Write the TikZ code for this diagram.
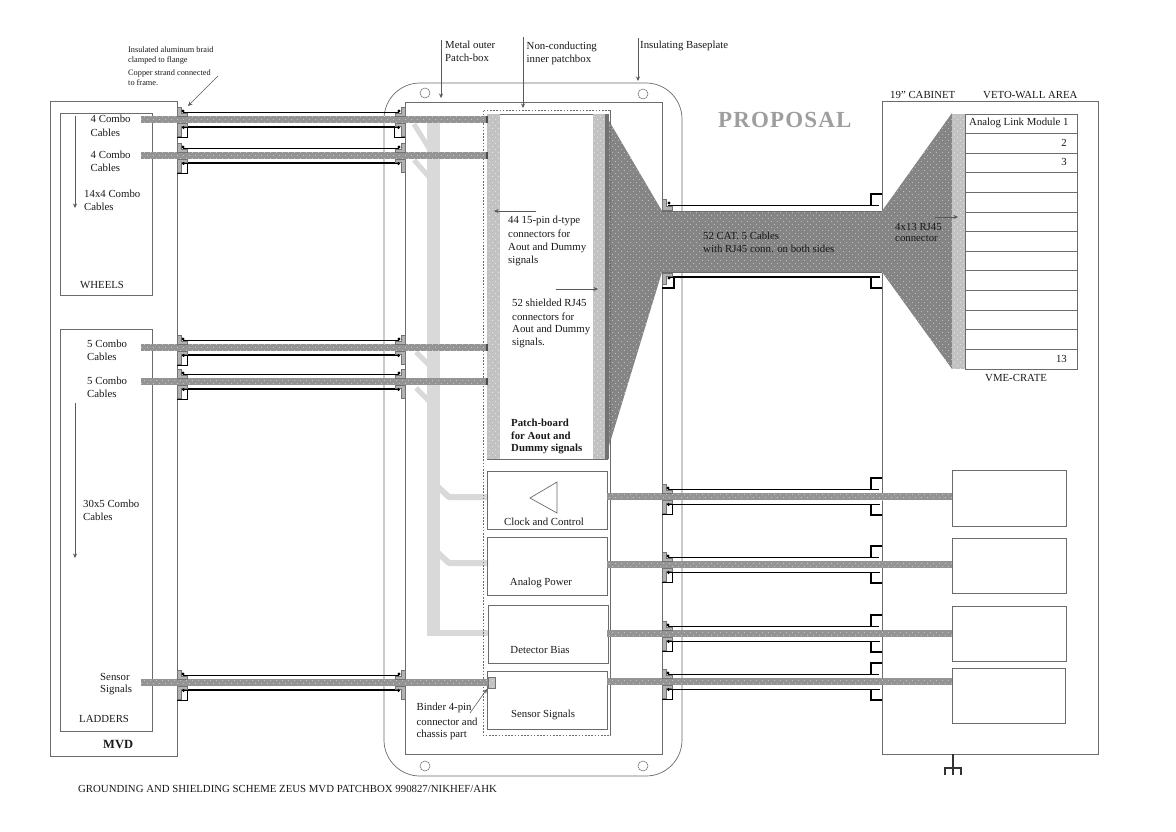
\documentclass[tikz,border=0pt]{standalone}
\usepackage{fontspec}
\setmainfont{Liberation Serif}
\usetikzlibrary{arrows.meta,patterns}
\pgfdeclarepatternformonly{sparsedots}{\pgfqpoint{-1pt}{-1pt}}{\pgfqpoint{5pt}{5pt}}{\pgfqpoint{6pt}{6pt}}{%
  \pgfpathcircle{\pgfqpoint{0.6pt}{0.6pt}}{0.38pt}\pgfpathcircle{\pgfqpoint{3.6pt}{3.6pt}}{0.38pt}\pgfusepath{fill}}
\definecolor{framecol}{gray}{0.42}
\definecolor{cablecol}{gray}{0.58}
\definecolor{fancol}{gray}{0.52}
\definecolor{barcol}{gray}{0.76}
\definecolor{flangecol}{gray}{0.70}
\definecolor{buscol}{gray}{0.85}
\definecolor{txtcol}{gray}{0.10}
\tikzset{
  frame/.style={draw=framecol,line width=0.7pt},
  thinframe/.style={draw=framecol,line width=0.6pt,dash pattern=on 1.6pt off 1.6pt},
  cableshape/.style={preaction={fill=cablecol},pattern=sparsedots,pattern color=white!80!cablecol},
  fanshape/.style={preaction={fill=fancol},pattern=sparsedots,pattern color=white!80!fancol},
  barshape/.style={preaction={fill=barcol},pattern=sparsedots,pattern color=white},
  flange/.style={fill=flangecol,draw=black!55,line width=0.5pt},
  wire/.style={draw=black,line width=1.1pt},
  pointer/.style={draw=black!65,line width=0.55pt,-{Stealth[length=4.5pt,width=4pt]}},
  bus/.style={draw=buscol,line join=round},
  lab/.style={anchor=west,inner sep=0pt,text=txtcol,font=\fontsize{10.8}{12}\selectfont},
  small/.style={lab,font=\fontsize{8.3}{9}\selectfont},
}
% gray flange pair and black dots; #1 x, #2 cable top, #3 direction
\newcommand{\flangepair}[3]{%
  \begin{scope}[shift={(#1,#2)},xscale=#3]
    \path[flange] (0,-8.5)--(4,-8.5)--(4,-2.5)--(10,-2.5)--(10,0)--(0,0)--cycle;
    \path[flange] (0,7)--(10,7)--(10,10.5)--(4,10.5)--(4,20)--(0,20)--cycle;
    \fill[black] (6,-5) circle (1.7);
    \fill[black] (6.5,11.5) circle (1.7);
  \end{scope}}
% black loop from the lower wire back to the frame
\newcommand{\groundloop}[3]{%
  \begin{scope}[shift={(#1,#2)},xscale=#3]
    \draw[wire] (10.5,11.5)--(10.5,21.5)--(0,21.5);
  \end{scope}}
% cable with its two wires on the left run
\newcommand{\leftrun}[2]{%
  \path[cableshape] (141,#1) rectangle (#2,#1+7);
  \draw[wire] (183,#1-3.5)--(399,#1-3.5);
  \draw[wire] (183,#1+11)--(399,#1+11);
  \flangepair{177}{#1}{1}\flangepair{405}{#1}{-1}\groundloop{177}{#1}{1}}
% cable with wires and stepped ends on the right run
\newcommand{\rightrun}[2]{%
  \path[cableshape] (607,#1) rectangle (#2,#1+7);
  \draw[wire] (668,#1-3.5)--(879,#1-3.5);
  \draw[wire] (668,#1+11.5)--(880,#1+11.5);
  \draw[wire] (871,#1-3.5)--(871,#1-15)--(882,#1-15);
  \draw[wire] (871,#1+11.5)--(871,#1+22)--(882,#1+22);
  \flangepair{662}{#1}{1}\groundloop{662}{#1}{1}}
\newcommand{\labl}[4]{\node[lab] (#1) at (#2,#3) {#4};}
\begin{document}
\begin{tikzpicture}[x=1pt,y=-1pt]
\useasboundingbox (0,0) rectangle (1176,831);
\fill[white] (0,0) rectangle (1176,831);

% light shield bus
\draw[bus,line width=13pt] (433.5,120)--(433.5,636);
\draw[bus,line width=6pt] (430,633)--(488,633);
\draw[bus,line width=5pt] (414,124)--(430,150);
\draw[bus,line width=5pt] (414,160)--(430,178);
\draw[bus,line width=5pt] (416,352)--(430,366);
\draw[bus,line width=5pt] (416,388)--(430,402);
\draw[bus,line width=6pt] (438,487)--(449,497)--(488,497);
\draw[bus,line width=6pt] (438,553)--(449,563)--(488,563);

% frames
\draw[frame] (50,101) rectangle (177,756);
\draw[frame] (60,113) rectangle (152,295);
\draw[frame] (60,329) rectangle (152,731);
\draw[frame,rounded corners=36pt] (384,83) rectangle (682,776);
\draw[frame] (405,102) rectangle (662,754);
\draw[thinframe] (483,110.5) rectangle (610,735);
\draw[frame] (882,101.5) rectangle (1098,754);
\foreach \cx/\cy [count=\i] in {425/93,643/94,425/766,643/766}
  \node[draw=framecol,line width=0.5pt,circle,minimum size=10pt,inner sep=0pt] (hole\i) at (\cx,\cy) {};

% patch board
\draw[frame] (487,114) rectangle (607,459);
\path[fanshape] (605,114)--(662,211)--(882,211)--(952,113)--(952,369)--(882,272)--(662,272)--(605,459)--cycle;
\draw[framecol,line width=0.6pt] (662,211)--(882,211) (662,272)--(882,272);
\fill[black!55] (605,114) rectangle (609,459);
\path[barshape] (487,114) rectangle (500,459);
\path[barshape] (593,114) rectangle (605,459);
\draw[thinframe] (610,110.5)--(610,735);

% modules
\path[barshape] (952,114) rectangle (965.5,369);
\draw[frame] (965.5,114) rectangle (1077,369);
\foreach \k in {1,...,12}
  \draw[frame] (965.5,114+19.6*\k)--(1077,114+19.6*\k);

% lower boxes
\draw[frame] (487,471) rectangle (607,529);
\draw[frame] (487,537) rectangle (607,595);
\draw[frame] (488,605) rectangle (608,663);
\draw[frame] (487,671) rectangle (607,729);
\draw[frame] (530,498)--(557,482)--(557,513)--cycle;
\draw[frame] (952,470) rectangle (1066,526);
\draw[frame] (952,538) rectangle (1066,593);
\draw[frame] (952,606) rectangle (1066,661);
\draw[frame] (952,668) rectangle (1065,723);

% left runs
\leftrun{116}{487}
\leftrun{152}{487}
\leftrun{344}{487}
\leftrun{378}{487}
\leftrun{679}{488}
\groundloop{405}{116}{-1}
\fill[black!70] (486,116) rectangle (487.5,123);
\fill[black!70] (486,152) rectangle (487.5,159);
\fill[black!70] (486,344) rectangle (487.5,351);
\fill[black!70] (486,378) rectangle (487.5,385);
\path[barshape,draw=black!55,line width=0.4pt] (488,677) rectangle (495,688);

% right runs
\rightrun{493}{952}
\rightrun{561}{952}
\rightrun{630}{952}
\rightrun{678}{952}
% fan-cable grounding
\draw[wire] (668,205.5)--(879,205.5);
\draw[wire] (668,277)--(880,277);
\draw[wire] (871,205.5)--(871,194)--(882,194);
\draw[wire] (871,277)--(871,288)--(882,288);
\path[flange] (662,199)--(666,199)--(666,206)--(672,206)--(672,210)--(662,210)--cycle;
\path[flange] (662,273)--(672,273)--(672,276.5)--(666,276.5)--(666,284)--(662,284)--cycle;
\fill[black] (669,203) circle (1.7);
\fill[black] (669,278) circle (1.7);
\draw[wire] (674,278)--(674,288)--(662,288);

% ground symbol
\coordinate (gndtop) at (953,754);
\coordinate (gndbar) at (953,768);
\draw[wire,draw=black!80] (gndtop)--(gndbar) (945,775)--(945,768)--(961,768)--(961,775) (gndbar)--(953,775);

% pointers
\coordinate (a1) at (218,76); \coordinate (a1e) at (188,106);
\draw[pointer] (a1)--(a1e);
\draw[pointer] (441,40)--(441,98);
\draw[pointer] (523,37)--(523,108);
\draw[pointer] (638,38)--(638,81);
\draw[pointer] (536,211)--(494,211);
\draw[pointer] (556,289)--(598,289);
\draw[pointer] (75,116)--(75,208);
\draw[pointer] (75,403)--(75,558);
\draw[pointer] (470,713)--(487,689);
\draw[pointer] (935,217)--(958,217);

% labels
\node[small] (n1) at (128,50) {Insulated aluminum braid};
\node[small] (n2) at (128,60) {clamped to flange};
\node[small] (n3) at (128,73) {Copper strand connected};
\node[small] (n4) at (128,83) {to frame.};
\labl{m1}{445}{45}{Metal outer}
\labl{m2}{445}{58}{Patch-box}
\labl{m3}{526.5}{47}{Non-conducting}
\labl{m4}{526.5}{60}{inner patchbox}
\labl{m5}{640}{46}{Insulating Baseplate}
\labl{c1}{90.5}{119}{4 Combo}
\labl{c2}{90.5}{132.5}{Cables}
\labl{c3}{90.5}{155}{4 Combo}
\labl{c4}{90.5}{168}{Cables}
\labl{c5}{84}{194}{14x4 Combo}
\labl{c6}{84}{207}{Cables}
\labl{c7}{80}{285}{WHEELS}
\labl{c8}{87}{344}{5 Combo}
\labl{c9}{87}{357}{Cables}
\labl{c10}{87}{381}{5 Combo}
\labl{c11}{87}{394}{Cables}
\labl{c12}{83}{504}{30x5 Combo}
\labl{c13}{83}{517}{Cables}
\labl{c14}{100}{677}{Sensor}
\labl{c15}{100}{690}{Signals}
\labl{c16}{79}{719}{LADDERS}
\node[lab,font=\fontsize{12.5}{14}\selectfont\bfseries] (mvd) at (103,744) {MVD};
\labl{d1}{508}{221}{44 15-pin d-type}
\labl{d2}{508}{234}{connectors for}
\labl{d3}{508}{247.5}{Aout and Dummy}
\labl{d4}{508}{261}{signals}
\labl{d5}{512}{303}{52 shielded RJ45}
\labl{d6}{512}{317}{connectors for}
\labl{d7}{512}{330}{Aout and Dummy}
\labl{d8}{512}{343}{signals.}
\node[lab,font=\fontsize{10.8}{12}\selectfont\bfseries] (p1) at (511,423) {Patch-board};
\node[lab,font=\fontsize{10.8}{12}\selectfont\bfseries] (p2) at (511,436) {for Aout and};
\node[lab,font=\fontsize{10.8}{12}\selectfont\bfseries] (p3) at (511,449) {Dummy signals};
\node[lab,anchor=center] (b1) at (544,522) {Clock and Control};
\node[lab,anchor=center] (b2) at (541,583) {Analog Power};
\node[lab,anchor=center] (b3) at (540,650) {Detector Bias};
\node[lab,anchor=center] (b4) at (543,715) {Sensor Signals};
\labl{e1}{416.5}{708}{Binder 4-pin}
\labl{e2}{416.5}{722}{connector and}
\labl{e3}{416.5}{735}{chassis part}
\labl{f1}{703}{236}{52 CAT. 5 Cables}
\labl{f2}{703}{249}{with RJ45 conn. on both sides}
\labl{f3}{895}{226.5}{4x13 RJ45}
\labl{f4}{895}{239}{connector}
\labl{g1}{969}{123}{Analog Link Module 1}
\node[lab,anchor=east] (g2) at (1067,143) {2};
\node[lab,anchor=east] (g3) at (1067,162) {3};
\node[lab,anchor=east] (g4) at (1067,359) {13};
\labl{h1}{890}{95}{19" CABINET}
\labl{h2}{983}{95}{VETO-WALL AREA}
\labl{h3}{985}{378}{VME-CRATE}
\labl{h4}{78}{789}{GROUNDING AND SHIELDING SCHEME ZEUS MVD PATCHBOX 990827/NIKHEF/AHK}
\node[anchor=west,inner sep=0pt,text=black!38,font={\fontsize{23}{26}\selectfont\bfseries\addfontfeature{LetterSpace=5}}] (prop) at (718,120) {PROPOSAL};
\end{tikzpicture}
\end{document}
